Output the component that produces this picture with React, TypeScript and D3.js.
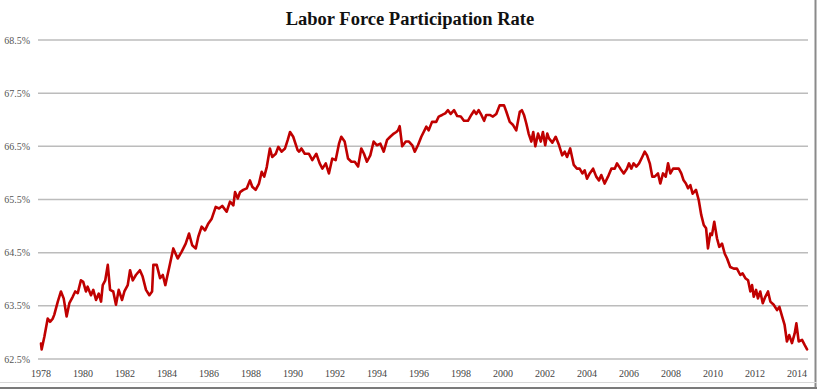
import React from 'react'
import * as d3 from 'd3'

// values (decimal year, percent)
const years = [
  1978.0, 1978.03, 1978.16, 1978.32, 1978.43, 1978.56, 1978.63, 1978.8, 1978.95, 1979.08,
  1979.22, 1979.35, 1979.51, 1979.63, 1979.75, 1979.9, 1980.01, 1980.14, 1980.22, 1980.38,
  1980.49, 1980.62, 1980.75, 1980.86, 1980.94, 1981.06, 1981.18, 1981.29, 1981.44, 1981.57,
  1981.7, 1981.86, 1981.97, 1982.13, 1982.24, 1982.37, 1982.52, 1982.71, 1982.84, 1983.0,
  1983.16, 1983.29, 1983.35, 1983.51, 1983.67, 1983.8, 1983.92, 1984.11, 1984.3, 1984.51,
  1984.7, 1984.89, 1985.05, 1985.2, 1985.37, 1985.49, 1985.65, 1985.81, 1985.97, 1986.13,
  1986.32, 1986.48, 1986.63, 1986.84, 1987.0, 1987.16, 1987.24, 1987.37, 1987.48, 1987.63,
  1987.8, 1987.95, 1988.06, 1988.22, 1988.38, 1988.51, 1988.63, 1988.75, 1988.9, 1989.01,
  1989.18, 1989.3, 1989.46, 1989.62, 1989.75, 1989.86, 1990.01, 1990.22, 1990.29, 1990.4,
  1990.56, 1990.76, 1990.92, 1991.11, 1991.27, 1991.4, 1991.56, 1991.71, 1991.87, 1992.03,
  1992.19, 1992.3, 1992.46, 1992.62, 1992.78, 1992.94, 1993.1, 1993.25, 1993.38, 1993.52,
  1993.68, 1993.84, 1994.0, 1994.16, 1994.32, 1994.48, 1994.63, 1994.8, 1994.92, 1995.0,
  1995.08, 1995.2, 1995.37, 1995.52, 1995.68, 1995.8, 1995.95, 1996.11, 1996.35, 1996.46,
  1996.62, 1996.82, 1996.94, 1997.1, 1997.25, 1997.38, 1997.51, 1997.67, 1997.82, 1997.99,
  1998.14, 1998.33, 1998.49, 1998.62, 1998.73, 1998.84, 1998.97, 1999.1, 1999.2, 1999.37,
  1999.52, 1999.68, 1999.84, 2000.05, 2000.16, 2000.32, 2000.48, 2000.63, 2000.8, 2000.9,
  2001.0, 2001.11, 2001.22, 2001.35, 2001.44, 2001.54, 2001.67, 2001.8, 2001.9, 2002.01,
  2002.11, 2002.19, 2002.35, 2002.51, 2002.67, 2002.82, 2002.94, 2003.05, 2003.2, 2003.37,
  2003.52, 2003.65, 2003.78, 2003.89, 2004.0, 2004.13, 2004.29, 2004.44, 2004.57, 2004.68,
  2004.84, 2005.0, 2005.16, 2005.32, 2005.43, 2005.59, 2005.75, 2005.9, 2006.0, 2006.11,
  2006.22, 2006.35, 2006.48, 2006.63, 2006.75, 2006.86, 2006.99, 2007.11, 2007.22, 2007.38,
  2007.49, 2007.62, 2007.75, 2007.86, 2007.97, 2008.1, 2008.25, 2008.37, 2008.49, 2008.6,
  2008.71, 2008.81, 2008.92, 2009.03, 2009.19, 2009.32, 2009.44, 2009.56, 2009.67, 2009.76,
  2009.87, 2009.95, 2010.06, 2010.19, 2010.3, 2010.43, 2010.56, 2010.67, 2010.82, 2010.99,
  2011.14, 2011.3, 2011.41, 2011.54, 2011.67, 2011.78, 2011.86, 2011.94, 2012.05, 2012.14,
  2012.25, 2012.37, 2012.49, 2012.62, 2012.73, 2012.89, 2013.05, 2013.16, 2013.29, 2013.41,
  2013.52, 2013.63, 2013.76, 2013.89, 2013.97, 2014.08, 2014.24, 2014.37, 2014.48,
]

const rates = [
  62.79, 62.68, 62.92, 63.26, 63.2, 63.26, 63.33, 63.58, 63.77, 63.64,
  63.3, 63.55, 63.67, 63.77, 63.74, 63.98, 63.95, 63.77, 63.86, 63.7,
  63.8, 63.61, 63.73, 63.58, 63.89, 63.98, 64.27, 63.8, 63.77, 63.52,
  63.8, 63.61, 63.77, 63.89, 64.17, 63.98, 64.08, 64.17, 64.05, 63.8,
  63.7, 63.77, 64.27, 64.27, 64.02, 64.08, 63.89, 64.23, 64.58, 64.39,
  64.52, 64.67, 64.86, 64.64, 64.58, 64.8, 64.99, 64.92, 65.05, 65.14,
  65.36, 65.33, 65.38, 65.27, 65.46, 65.39, 65.64, 65.52, 65.64, 65.68,
  65.71, 65.86, 65.74, 65.68, 65.8, 66.02, 65.93, 66.11, 66.46, 66.3,
  66.36, 66.49, 66.4, 66.46, 66.62, 66.77, 66.68, 66.43, 66.4, 66.46,
  66.36, 66.36, 66.24, 66.36, 66.18, 66.08, 66.18, 65.99, 66.27, 66.24,
  66.55, 66.68, 66.59, 66.27, 66.21, 66.21, 66.12, 66.46, 66.36, 66.21,
  66.33, 66.59, 66.52, 66.55, 66.4, 66.62, 66.68, 66.74, 66.77, 66.8,
  66.88, 66.5, 66.59, 66.59, 66.52, 66.4, 66.52, 66.68, 66.87, 66.8,
  66.96, 66.96, 67.06, 67.09, 67.12, 67.18, 67.11, 67.18, 67.07, 67.06,
  66.98, 66.98, 67.09, 67.17, 67.11, 67.18, 67.09, 66.98, 67.09, 67.09,
  67.06, 67.11, 67.27, 67.27, 67.15, 66.96, 66.9, 66.8, 67.15, 67.18,
  67.09, 66.93, 66.74, 66.59, 66.77, 66.5, 66.74, 66.59, 66.77, 66.52,
  66.74, 66.65, 66.57, 66.68, 66.52, 66.33, 66.4, 66.3, 66.46, 66.15,
  66.08, 66.08, 65.99, 66.05, 65.89, 65.99, 66.08, 65.93, 65.86, 65.96,
  65.8, 65.93, 66.08, 66.08, 66.18, 66.08, 65.99, 66.08, 66.18, 66.08,
  66.18, 66.12, 66.18, 66.3, 66.4, 66.33, 66.18, 65.93, 65.93, 65.99,
  65.8, 65.99, 65.93, 66.18, 65.99, 66.08, 66.08, 66.08, 65.99, 65.86,
  65.8, 65.71, 65.77, 65.61, 65.68, 65.49, 65.21, 65.02, 64.96, 64.58,
  64.86, 64.83, 65.08, 64.77, 64.61, 64.67, 64.48, 64.39, 64.23, 64.2,
  64.2, 64.08, 64.11, 64.02, 63.98, 63.77, 63.89, 63.67, 63.8, 63.64,
  63.77, 63.55, 63.67, 63.77, 63.58, 63.52, 63.42, 63.48, 63.3, 63.14,
  62.83, 62.95, 62.8, 62.98, 63.17, 62.83, 62.86, 62.76, 62.68,
]

const yTicks = [62.5, 63.5, 64.5, 65.5, 66.5, 67.5, 68.5]
const xTickYears = d3.range(1978, 2015, 2)

const title = 'Labor Force Participation Rate'

const App = () => {
  const w = 819
  const h = 391
  const gridLeft = 38
  const gridRight = 808

  const x = d3.scaleLinear().domain([1978, 2014]).range([41, 797])
  const y = d3.scaleLinear().domain([62.5, 68.5]).range([359, 40])

  const line = d3
    .line<number>()
    .x((i) => x(years[i]))
    .y((i) => y(rates[i]))
    .curve(d3.curveLinear)

  const I = d3.range(years.length)

  return (
    <svg
      width={w}
      height={h}
      viewBox={`0 0 ${w} ${h}`}
      style={{ position: 'absolute', left: 0, top: 0, background: '#fff' }}
    >
      <rect x={0} y={0} width={w} height={h} fill="#fff" />

      {/* frame shadow on right and bottom */}
      <line x1={815.5} x2={815.5} y1={0} y2={388} stroke="#8a8a8a" strokeWidth={2} />
      <line x1={0} x2={817} y1={382.5} y2={382.5} stroke="#d8d8d8" strokeWidth={1} />
      <line x1={0} x2={817} y1={388} y2={388} stroke="#7a7a7a" strokeWidth={2} />

      <text
        x={410}
        y={25}
        textAnchor="middle"
        fontFamily="'Liberation Serif', serif"
        fontWeight="bold"
        fontSize={18.5}
        fill="#111"
      >
        {title}
      </text>

      {/* grid + y labels */}
      {yTicks.map((t) => (
        <g key={t}>
          <line
            x1={gridLeft}
            x2={gridRight}
            y1={y(t)}
            y2={y(t)}
            stroke="#bcbcbc"
            strokeWidth={1.5}
          />
          <text
            x={30}
            y={y(t)}
            dy="0.35em"
            textAnchor="end"
            fontFamily="'Liberation Serif', serif"
            fontSize={10}
            fill="#555"
          >
            {t.toFixed(1) + '%'}
          </text>
        </g>
      ))}

      {/* x labels */}
      {xTickYears.map((yr) => (
        <text
          key={yr}
          x={x(yr)}
          y={377}
          textAnchor="middle"
          fontFamily="'Liberation Serif', serif"
          fontSize={10}
          fill="#444"
        >
          {yr}
        </text>
      ))}

      <path
        d={line(I) ?? ''}
        fill="none"
        stroke="#c00000"
        strokeWidth={2.6}
        strokeLinejoin="round"
        strokeLinecap="round"
      />
    </svg>
  )
}

export default App
